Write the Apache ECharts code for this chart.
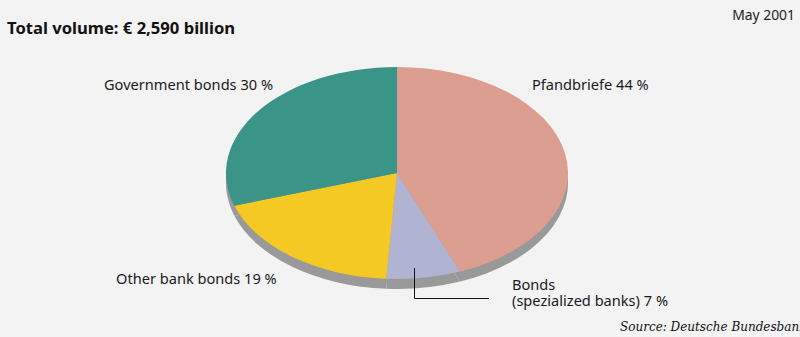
<!DOCTYPE html>
<html>
<head>
<meta charset="utf-8">
<script src="https://cdn.jsdelivr.net/npm/echarts@6/dist/echarts.min.js"></script>
<style>
  html, body { margin: 0; padding: 0; background: #f3f3f3; }
  #wrap { position: relative; width: 800px; height: 337px; overflow: hidden; background: #f3f3f3; }
  /* the pie is drawn round and squashed vertically to give the tilted look */
  #pie { position: absolute; left: 0; top: 0; width: 800px; height: 544px;
         transform: scaleY(0.62); transform-origin: 0 0; }
  #text { position: absolute; left: 0; top: 0; width: 800px; height: 337px; }
</style>
</head>
<body>
<div id="wrap">
  <div id="pie"></div>
  <div id="text"></div>
</div>
<script>
// Outstanding bonds by type, share of total volume (%)
const categories = ['Pfandbriefe', 'Bonds\n(spezialized banks)', 'Other bank bonds', 'Government bonds'];
const shares = [44, 7, 19, 30];
const sliceColors = ['#dc9e91', '#b1b3d3', '#f5c924', '#3b9488'];
const titleText = 'Total volume: € 2,590 billion';
const dateText = 'May 2001';
const sourceText = 'Source: Deutsche Bundesbank';

const squash = 0.62;
const cx = 397, cy = 173, r = 171, depth = 10;

const pieData = categories.map((c, i) => ({
  name: c, value: shares[i], itemStyle: { color: sliceColors[i] }
}));
const rimData = categories.map((c, i) => ({
  name: c, value: shares[i], itemStyle: { color: '#999999' }
}));

const pieChart = echarts.init(document.getElementById('pie'), null, { renderer: 'svg' });
pieChart.setOption({
  animation: false,
  series: [
    {
      type: 'pie', silent: true, startAngle: 90, clockwise: true,
      center: [cx, (cy + depth) / squash], radius: r,
      label: { show: false }, labelLine: { show: false },
      itemStyle: { borderWidth: 0 },
      data: rimData, z: 1
    },
    {
      type: 'pie', silent: true, startAngle: 90, clockwise: true,
      center: [cx, cy / squash], radius: r,
      label: { show: false }, labelLine: { show: false },
      itemStyle: { borderWidth: 0 },
      data: pieData, z: 2
    }
  ]
});

const font = '"Noto Sans", "Open Sans", sans-serif';
const labelPos = [
  [532, 84],
  [512, 292],
  [116, 278],
  [104, 84]
];
const labelEls = categories.map((c, i) => ({
  type: 'text',
  position: labelPos[i],
  style: {
    text: c + ' ' + shares[i] + ' %',
    font: '14.6px ' + font, fill: '#1a1a1a',
    textAlign: 'left', textVerticalAlign: 'middle', lineHeight: 16
  }
}));

const textChart = echarts.init(document.getElementById('text'), null, { renderer: 'svg' });
textChart.setOption({
  animation: false,
  graphic: [
    { type: 'text', position: [7, 27],
      style: { text: titleText, font: 'bold 16.6px ' + font, fill: '#111',
               textAlign: 'left', textVerticalAlign: 'middle' } },
    { type: 'text', position: [795, 14],
      style: { text: dateText, font: '13.9px ' + font, fill: '#222',
               textAlign: 'right', textVerticalAlign: 'middle' } },
    { type: 'text', position: [620, 327],
      style: { text: sourceText, font: 'italic 12px "DejaVu Serif", "Liberation Serif", serif', fill: '#111',
               textAlign: 'left', textVerticalAlign: 'middle' } },
    { type: 'polyline',
      shape: { points: [[414.5, 268], [414.5, 298.5], [489, 298.5]] },
      style: { stroke: '#111', lineWidth: 1, fill: null } }
  ].concat(labelEls)
});
</script>
</body>
</html>
